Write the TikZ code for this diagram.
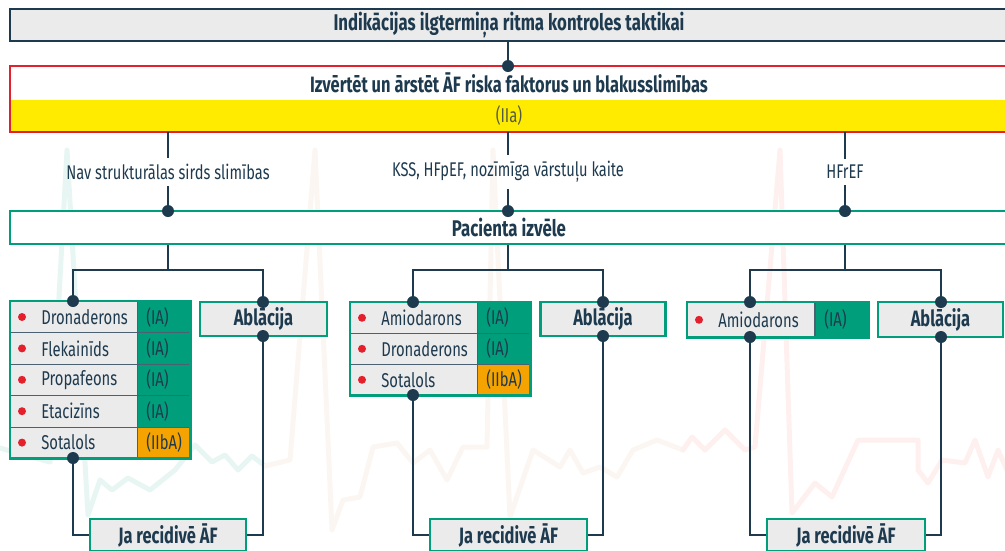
\documentclass[tikz,border=0pt]{standalone}
\usepackage{fontspec}
\setmainfont{Fira Sans}[FakeStretch=0.74]
\usepackage{xcolor}
\usepackage{tikz}
\usetikzlibrary{positioning}

\definecolor{navy}{HTML}{1E3A4F}
\definecolor{ecsgreen}{HTML}{009E7B}
\definecolor{boxgray}{HTML}{EBEBEB}
\definecolor{alertred}{HTML}{E3202B}
\definecolor{bandyellow}{HTML}{FFEB00}
\definecolor{bandtext}{HTML}{515A44}
\definecolor{classorange}{HTML}{F5A300}

\tikzset{
  wire/.style={draw=navy, line width=2.5pt},
  joint/.style={circle, fill=navy, inner sep=0pt, minimum size=12pt},
  titlebox/.style={draw=navy, line width=2pt, fill=boxgray, text=navy,
    font=\bfseries\fontsize{22.7}{24}\selectfont},
  greenbox/.style={draw=ecsgreen, line width=2.5pt, fill=boxgray, text=navy,
    font=\bfseries\fontsize{22.2}{24}\selectfont},
  branchlabel/.style={text=navy, inner ysep=6pt, font=\fontsize{19.8}{22}\selectfont},
  drugcell/.style={draw=navy!80, line width=0.6pt, fill=boxgray, anchor=north west,
    inner xsep=0pt, text width=127pt, align=left, text=navy,
    font=\fontsize{20}{22}\selectfont},
  classcell/.style={draw=navy!80, line width=0.6pt, anchor=north west,
    inner xsep=0pt, text width=53pt, align=left, text=navy,
    font=\fontsize{20}{22}\selectfont},
  reddot/.style={circle, fill=alertred, inner sep=0pt, minimum size=8pt},
  ecg/.style={line width=5pt, line join=round, line cap=round}
}

\begin{document}
\begin{tikzpicture}[x=1pt, y=-1pt]
\useasboundingbox (0,0) rectangle (1005,550);
\clip (0,0) rectangle (1005,550);

% faint trace in the background
\draw[ecg, ecsgreen!9] (0,448) -- (50,462) -- (67,150) -- (88,515) -- (100,480)
  -- (112,490) -- (128,478) -- (150,490) -- (175,470) -- (195,445) -- (212,462)
  -- (225,455) -- (238,470) -- (252,456) -- (265,466);
\draw[ecg, brown!7] (265,466) -- (290,460) -- (315,150) -- (332,530) -- (343,500)
  -- (360,497) -- (373,447) -- (397,443) -- (413,463) -- (430,450) -- (447,480)
  -- (463,447) -- (487,447) -- (493,150) -- (510,517) -- (533,450) -- (560,467)
  -- (570,450) -- (583,473) -- (600,467) -- (617,477) -- (633,450) -- (657,440)
  -- (683,450);
\draw[ecg, red!6] (683,450) -- (692,437) -- (705,450) -- (725,430) -- (745,450)
  -- (755,447) -- (780,150) -- (792,513) -- (815,483) -- (832,497) -- (858,440)
  -- (918,440) -- (918,470) -- (928,483) -- (942,460) -- (965,463) -- (975,440)
  -- (988,477) -- (998,450) -- (1010,477);

% top
\node[titlebox, minimum width=998pt, minimum height=30pt] (title) at (509,25)
  {Indikācijas ilgtermiņa ritma kontroles taktikai};
\node[fill=white, minimum width=998pt, minimum height=34pt, text=navy,
  font=\bfseries\fontsize{22.2}{24}\selectfont] (assess) at (509,83)
  {Izvērtēt un ārstēt ĀF riska faktorus un blakusslimības};
\node[fill=bandyellow, minimum width=998pt, minimum height=31pt, text=bandtext,
  font=\fontsize{20}{22}\selectfont, below=0pt of assess] (band) {(IIa)};
\draw[alertred, line width=2pt] (assess.north west) rectangle (band.south east);
\draw[wire] (title.south -| 508,0) -- (508,66);
\node[joint] (jtop) at (508,66) {};

% three branches
\node[branchlabel] (nostruct) at (168,172) {Nav strukturālas sirds slimības};
\node[branchlabel] (kss) at (508,172) {KSS, HFpEF, nozīmīga vārstuļu kaite};
\node[branchlabel] (hfref) at (845,172) {HFrEF};
\node[draw=ecsgreen, line width=2.5pt, fill=white, minimum width=998pt,
  minimum height=33pt, text=navy, font=\bfseries\fontsize{22.7}{24}\selectfont]
  (pref) at (509,227.5) {Pacienta izvēle};
\foreach \b/\bx in {nostruct/168, kss/508, hfref/845} {
  \draw[wire] (\b.north) -- (\b.north |- band.south);
  \draw[wire] (\b.south) -- (\b.south |- pref.north);
  \node[joint] (p\b) at (\bx,211) {};
}

% forks
\coordinate (fork1) at (168,270);
\coordinate (fork2) at (508,270);
\coordinate (fork3) at (845,270);
\foreach \f in {1,2,3}
  \draw[wire] (fork\f |- pref.south) -- (fork\f);

% group 1
\node[greenbox, minimum width=127pt, minimum height=34pt] (abl1) at (263.5,319) {Ablācija};
\foreach \drug/\cls/\clr [count=\i] in {Dronaderons/(IA)/ecsgreen, Flekainīds/(IA)/ecsgreen,
    Propafeons/(IA)/ecsgreen, Etacizīns/(IA)/ecsgreen, Sotalols/(IIbA)/classorange} {
  \node[drugcell, minimum height=31.4pt] (g1d\i) at (10,{301+31.4*(\i-1)}) {\hspace*{31pt}\drug};
  \node[classcell, fill=\clr, minimum height=31.4pt] (g1c\i) at (137,{301+31.4*(\i-1)}) {\hspace*{9pt}\cls};
  \node[reddot] (g1b\i) at ([xshift=12pt]g1d\i.west) {};
}
\draw[ecsgreen, line width=2.5pt] (g1d1.north west) rectangle (g1c5.south east);
\node[greenbox, minimum width=156pt, minimum height=32pt] (again1) at (168,535) {Ja recidivē ĀF};

% group 2
\node[greenbox, minimum width=125pt, minimum height=34pt] (abl2) at (603,319) {Ablācija};
\foreach \drug/\cls/\clr [count=\i] in {Amiodarons/(IA)/ecsgreen, Dronaderons/(IA)/ecsgreen,
    Sotalols/(IIbA)/classorange} {
  \node[drugcell, minimum height=31pt] (g2d\i) at (350,{302+31*(\i-1)}) {\hspace*{31pt}\drug};
  \node[classcell, fill=\clr, minimum height=31pt] (g2c\i) at (477,{302+31*(\i-1)}) {\hspace*{9pt}\cls};
  \node[reddot] (g2b\i) at ([xshift=12pt]g2d\i.west) {};
}
\draw[ecsgreen, line width=2.5pt] (g2d1.north west) rectangle (g2c3.south east);
\node[greenbox, minimum width=157pt, minimum height=32pt] (again2) at (508.5,535) {Ja recidivē ĀF};

% group 3
\node[greenbox, minimum width=125pt, minimum height=35pt] (abl3) at (940.5,319.5) {Ablācija};
\node[drugcell, minimum height=35pt] (g3d1) at (687,302) {\hspace*{31pt}Amiodarons};
\node[classcell, fill=ecsgreen, minimum height=35pt] (g3c1) at (815,302) {\hspace*{9pt}(IA)};
\node[reddot] (g3b1) at ([xshift=12pt]g3d1.west) {};
\draw[ecsgreen, line width=2.5pt] (g3d1.north west) rectangle (g3c1.south east);
\node[greenbox, minimum width=158pt, minimum height=32pt] (again3) at (846,535) {Ja recidivē ĀF};

% joints on the tables and boxes
\node[joint] (j1a) at (73,301) {};
\node[joint] (j1b) at (263,302) {};
\node[joint] (j1c) at (73,458) {};
\node[joint] (j1d) at (263,336) {};
\node[joint] (j2a) at (413,302) {};
\node[joint] (j2b) at (603,302) {};
\node[joint] (j2c) at (413,395) {};
\node[joint] (j2d) at (603,336) {};
\node[joint] (j3a) at (750,302) {};
\node[joint] (j3b) at (941,302) {};
\node[joint] (j3c) at (750,337) {};
\node[joint] (j3d) at (941,337) {};

\foreach \g in {1,2,3} {
  \draw[wire] (j\g a.north) |- (fork\g) -| (j\g b.north);
  \draw[wire] (j\g c.south) |- (again\g.west);
  \draw[wire] (j\g d.south) |- (again\g.east);
}
\end{tikzpicture}
\end{document}
